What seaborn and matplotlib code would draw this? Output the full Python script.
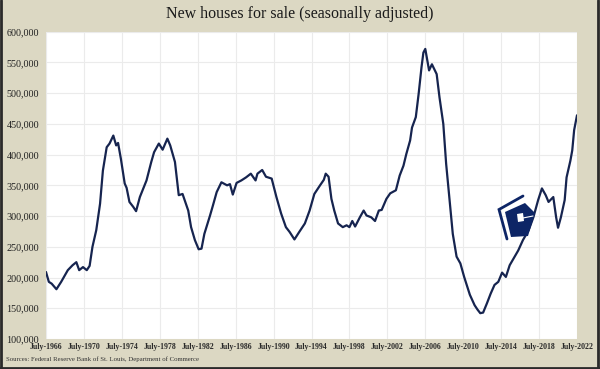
import matplotlib
matplotlib.use("Agg")
import matplotlib.pyplot as plt
from matplotlib.patches import Polygon
from matplotlib.lines import Line2D
import seaborn as sns
import pandas as pd

# decimal year (July-1966 = 1966.5) and houses for sale (thousands)
years = [1966.5, 1966.8, 1967.1, 1967.6, 1968.1, 1968.8, 1969.3, 1969.7, 1970.0, 1970.4,
         1970.8, 1971.1, 1971.4, 1971.8, 1972.2, 1972.5, 1972.9, 1973.2, 1973.6, 1973.9,
         1974.1, 1974.4, 1974.8, 1975.0, 1975.3, 1975.7, 1976.0, 1976.4, 1977.1, 1977.6,
         1977.9, 1978.4, 1978.8, 1979.3, 1979.6, 1980.1, 1980.5, 1980.9, 1981.5, 1981.8,
         1982.2, 1982.6, 1982.9, 1983.2, 1983.8, 1984.1, 1984.5, 1985.0, 1985.6, 1985.9,
         1986.2, 1986.6, 1987.1, 1987.6, 1988.1, 1988.6, 1988.8, 1989.3, 1989.7, 1990.3,
         1990.8, 1991.3, 1991.8, 1992.2, 1992.7, 1993.2, 1993.8, 1994.3, 1994.8, 1995.4,
         1995.8, 1996.0, 1996.3, 1996.6, 1996.9, 1997.3, 1997.8, 1998.2, 1998.5, 1998.8,
         1999.1, 1999.6, 2000.0, 2000.3, 2000.8, 2001.2, 2001.6, 2001.9, 2002.4, 2002.8,
         2003.4, 2003.8, 2004.2, 2004.5, 2004.9, 2005.1, 2005.5, 2005.8, 2006.1, 2006.3,
         2006.5, 2006.9, 2007.2, 2007.7, 2008.0, 2008.4, 2008.7, 2009.1, 2009.4, 2009.8,
         2010.2, 2010.6, 2011.2, 2011.7, 2012.0, 2012.3, 2012.6, 2013.0, 2013.4, 2013.8,
         2014.2, 2014.6, 2015.0, 2015.4, 2016.0, 2016.3, 2016.8, 2017.4, 2017.9, 2018.4,
         2018.8, 2019.2, 2019.5, 2020.0, 2020.3, 2020.5, 2020.8, 2021.2, 2021.4, 2021.8,
         2022.0, 2022.2, 2022.5]
houses_k = [209, 193, 190, 181, 193, 212, 220, 225, 212, 217,
            212, 219, 250, 277, 320, 374, 412, 418, 431, 415,
            419, 393, 353, 346, 323, 315, 308, 331, 358, 388,
            404, 418, 408, 426, 415, 388, 334, 336, 309, 282,
            261, 246, 247, 271, 301, 317, 339, 355, 350, 352,
            335, 354, 358, 363, 369, 358, 369, 375, 364, 361,
            331, 304, 282, 274, 262, 274, 288, 309, 336, 350,
            359, 369, 364, 328, 309, 288, 282, 285, 282, 292,
            283, 298, 309, 301, 298, 292, 309, 310, 328, 337,
            342, 366, 382, 401, 423, 444, 461, 499, 542, 566,
            572, 537, 547, 531, 493, 450, 385, 320, 271, 234,
            223, 201, 172, 155, 148, 142, 143, 158, 174, 188,
            193, 208, 201, 220, 236, 244, 261, 277, 298, 326,
            345, 334, 323, 331, 298, 281, 298, 326, 363, 390,
            407, 440, 464]

tick_years = [1966 + 4 * i for i in range(15)]
tick_labels = [f"July-{y}" for y in tick_years]
y_ticks = [100000 + 50000 * i for i in range(11)]

title = "New houses for sale (seasonally adjusted)"
source = "Sources: Federal Reserve Bank of St. Louis, Department of Commerce"

df = pd.DataFrame({"year": years, "houses": [v * 1000 for v in houses_k]})

BG = "#dcd8c3"
NAVY = "#16244f"
LOGO = "#0d2566"

sns.set_theme(style="whitegrid")
plt.rcParams["font.family"] = ["Liberation Serif", "DejaVu Serif"]

fig = plt.figure(figsize=(6.0, 3.69), dpi=100, facecolor=BG)
ax = fig.add_axes([46 / 600, (369 - 339) / 369, 531 / 600, 307.3 / 369])
ax.set_facecolor("white")

sns.lineplot(data=df, x="year", y="houses", ax=ax, color=NAVY, linewidth=1.6)

ax.set_xlim(1966.5, 2022.5)
ax.set_ylim(100000, 600000)
ax.set_xticks([y + 0.5 for y in tick_years])
ax.set_xticklabels(tick_labels, fontsize=5.7, fontweight="bold", color="#2a2a2a")
ax.set_yticks(y_ticks)
ax.set_yticklabels([f"{v:,}" for v in y_ticks], fontsize=7.3, color="#222222")
ax.tick_params(axis="x", pad=3, length=0)
ax.tick_params(axis="y", pad=5, length=0)
ax.set_xlabel("")
ax.set_ylabel("")
ax.grid(True, color="#ebebeb", linewidth=0.8)
for s in ax.spines.values():
    s.set_visible(False)

fig.text(0.5, 1 - 14 / 369, title, ha="center", va="center",
         fontsize=11.5, color="#1a1a1a")
fig.text(6 / 600, 1 - 359 / 369, source, ha="left", va="center",
         fontsize=4.9, color="#333333")

# logo (decorative) in axes-fraction coordinates
def axp(px, py):
    return ((px - 46) / 531, (339 - py) / 307.3)

pent = [axp(505, 212), axp(525, 203), axp(535, 213), axp(528, 236), axp(511, 237)]
ax.add_patch(Polygon(pent, closed=True, transform=ax.transAxes,
                     facecolor=LOGO, edgecolor="none", zorder=5))
bx = [axp(523, 196), axp(499, 209.5), axp(507, 239)]
ax.add_line(Line2D([p[0] for p in bx], [p[1] for p in bx], transform=ax.transAxes,
                   color=LOGO, linewidth=2.0, solid_joinstyle="miter", zorder=5))
kh = [axp(517, 214), axp(523, 213), axp(524, 221), axp(518, 222)]
ax.add_patch(Polygon(kh, closed=True, transform=ax.transAxes,
                     facecolor="white", edgecolor="none", zorder=6))
kl = [axp(523, 218), axp(533, 216)]
ax.add_line(Line2D([p[0] for p in kl], [p[1] for p in kl], transform=ax.transAxes,
                   color="white", linewidth=0.8, zorder=6))

# figure frame (left, right, bottom)
for xs, ys in [([0.002, 0.002], [0, 1]), ([0.997, 0.997], [0, 1]), ([0, 1], [0.004, 0.004])]:
    fig.add_artist(Line2D(xs, ys, transform=fig.transFigure, color="#2a2a2a", linewidth=2.0))

fig.savefig("out.png", dpi=100, facecolor=BG)
